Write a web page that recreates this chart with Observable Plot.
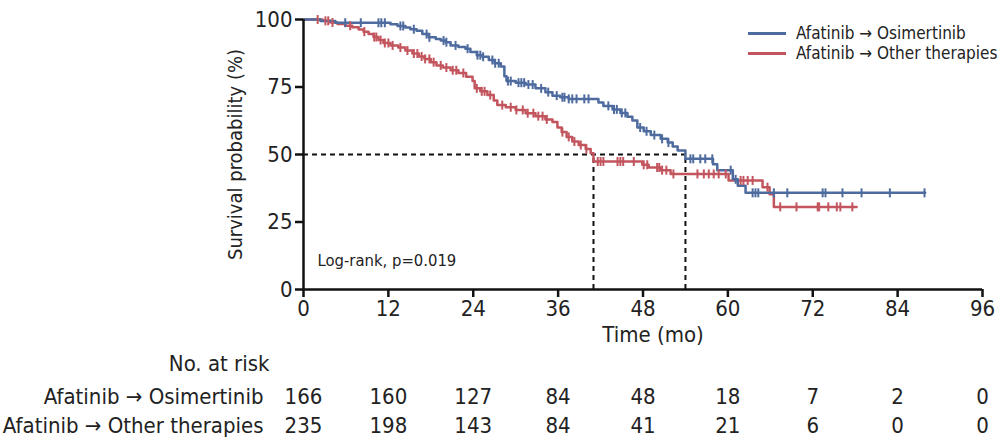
<!DOCTYPE html>
<html>
<head>
<meta charset="utf-8">
<script src="https://cdn.jsdelivr.net/npm/d3@7"></script>
<script src="https://cdn.jsdelivr.net/npm/@observablehq/plot@0.6"></script>
<style>
  body { margin: 0; background: #fff; }
  #wrap { position: relative; width: 1004px; height: 446px; font-family: "DejaVu Sans Condensed", "DejaVu Sans", sans-serif; font-stretch: condensed; color: #222; }
  #legend { position: absolute; left: 748px; top: 23px; font-size: 17px; line-height: 20px; white-space: nowrap; }
  #legend .row { display: flex; align-items: center; height: 20px; }
  #legend .sw { width: 38px; height: 3px; margin-right: 10px; }
</style>
</head>
<body>
<div id="wrap"></div>
<script>
const groups = ["Afatinib \u2192 Osimertinib", "Afatinib \u2192 Other therapies"];
const colors = ["#4e6b9f", "#c2555e"];
const xTicks = [0, 12, 24, 36, 48, 60, 72, 84, 96];
const yTicks = [0, 25, 50, 75, 100];

const osiTimes = [0,2.4,4.5,12.3,13.3,14.4,15.1,16.0,16.8,17.7,18.7,19.4,20.1,20.8,21.9,22.9,23.6,24.5,25.3,26.2,27.0,27.9,28.4,28.7,30.0,31.4,32.8,34.2,35.2,36.3,37.5,41.7,42.4,43.7,44.8,45.8,46.5,47.2,48.1,49.1,50.5,51.5,52.2,52.9,54.0,57.9,58.5,60.7,61.4,62.5];
const osiSurv = [100,99.4,98.8,98.2,97.6,97.0,96.4,95.8,94.6,93.4,92.8,92.2,91.6,90.4,89.8,89.2,88.0,86.8,86.2,85.0,83.8,82.6,79.0,77.2,76.6,75.9,74.5,73.1,71.8,71.2,70.6,69.3,68.0,66.7,65.4,64.0,62.6,60.0,58.6,57.2,55.8,54.4,53.0,51.5,48.4,46.4,44.2,40.8,38.4,35.8];
const osiEnd = 87.9;
const osiCensor = [5.9,8.1,10.6,11.0,11.5,13.7,14.1,15.6,17.4,17.8,19.8,20.2,21.5,23.2,24.6,25.0,25.4,26.7,27.1,27.6,28.9,29.3,30.4,30.8,31.2,31.8,32.4,33.6,34.6,35.8,36.6,36.9,37.5,38.0,38.6,39.7,40.3,43.1,43.9,44.3,45.0,45.5,47.6,48.5,49.6,50.7,51.6,54.7,55.1,56.1,56.8,57.8,60.4,61.1,63.5,63.9,64.3,66.5,68.4,73.4,73.8,76.2,78.9,82.9,87.8];

const othTimes = [0,2.7,3.8,4.8,5.9,6.9,7.8,8.5,9.2,9.9,10.6,11.3,12.3,13.4,14.4,15.4,16.3,17.1,18.0,18.8,19.7,20.8,21.9,23.0,23.9,24.2,25.0,26.0,26.9,27.4,28.6,30.0,31.4,32.8,34.2,35.2,35.9,36.5,37.2,38.0,38.9,39.9,40.6,41.0,47.9,48.8,50.5,51.9,60.1,64.9,65.9,66.5];
const othSurv = [100,99.5,98.9,98.3,97.7,97.1,96.3,95.5,94.6,93.5,92.4,91.3,90.4,89.6,88.5,87.4,86.3,85.4,84.2,83.0,82.2,81.2,80.2,78.8,77.2,74.5,73.4,72.0,70.0,68.3,67.5,66.5,65.3,64.2,63.0,62.0,60.0,58.3,56.5,54.8,53.5,52.0,50.5,47.4,46.2,45.2,44.2,42.8,40.4,37.9,35.3,30.6];
const othEnd = 78.2;
const othCensor = [2.0,3.1,3.5,4.1,6.6,8.6,10.0,10.3,10.9,11.5,12.0,12.6,13.7,14.7,15.6,16.1,16.7,17.2,17.8,18.4,19.4,20.2,21.1,21.6,22.6,24.5,25.2,25.6,26.4,28.1,29.3,30.1,31.0,31.7,32.5,33.2,33.8,34.4,36.6,37.5,38.3,39.2,40.0,41.6,42.0,42.4,44.4,44.8,45.2,46.7,48.1,48.6,50.0,50.3,50.7,51.3,52.3,55.7,56.6,57.3,58.0,58.7,59.7,61.8,62.2,62.8,63.5,65.6,67.4,69.7,72.7,72.9,74.2,75.4,75.9,77.6];

const riskOsi = [166, 160, 127, 84, 48, 18, 7, 2, 0];
const riskOth = [235, 198, 143, 84, 41, 21, 6, 0, 0];
const medianTimes = [41, 54];
const logRankText = "Log-rank, p=0.019";

function stepRows(times, surv, end, g) {
  const rows = times.map((t, i) => ({t, s: surv[i], g}));
  rows.push({t: end, s: surv[surv.length - 1], g});
  return rows;
}
function survAt(times, surv, t) {
  let s = surv[0];
  for (let i = 0; i < times.length; i++) if (times[i] <= t) s = surv[i];
  return s;
}
const curves = [
  ...stepRows(othTimes, othSurv, othEnd, groups[1]),
  ...stepRows(osiTimes, osiSurv, osiEnd, groups[0])
];
const censors = [
  ...othCensor.map(t => ({t, s: survAt(othTimes, othSurv, t), g: groups[1]})),
  ...osiCensor.map(t => ({t, s: survAt(osiTimes, osiSurv, t), g: groups[0]}))
];
const tickSymbol = {draw(context) { context.moveTo(0, -4.5); context.lineTo(0, 4.5); }};

const font = "'DejaVu Sans Condensed', 'DejaVu Sans', sans-serif";
const chart = Plot.plot({
  width: 1004, height: 446,
  marginLeft: 303, marginRight: 22, marginTop: 19, marginBottom: 157,
  style: {fontFamily: font, fontSize: "22px", color: "#222", background: "#fff", overflow: "visible", fontStretch: "condensed"},
  x: {domain: [0, 96]},
  y: {domain: [0, 100]},
  color: {domain: groups, range: colors},
  marks: [
    Plot.ruleY([50], {x1: 0, x2: medianTimes[1], stroke: "#111", strokeWidth: 2, strokeDasharray: "5,4"}),
    Plot.ruleX(medianTimes, {x: d => d, y1: 0, y2: 50, stroke: "#111", strokeWidth: 2, strokeDasharray: "5,4"}),
    Plot.line(curves, {x: "t", y: "s", z: "g", stroke: "g", curve: "step-after", strokeWidth: 2.5}),
    Plot.dot(censors, {x: "t", y: "s", stroke: "g", symbol: tickSymbol, r: 4, strokeWidth: 2, fill: "none"}),
    Plot.axisX({ticks: xTicks, tickSize: 8, tickPadding: 3, strokeWidth: 2.5, stroke: "#111", fontSize: 22, label: null}),
    Plot.axisY({ticks: yTicks, tickSize: 8, tickPadding: 3, strokeWidth: 2.5, stroke: "#111", fontSize: 22, label: null}),
    Plot.ruleX([0], {stroke: "#111", strokeWidth: 2.5}),
    Plot.ruleY([0], {stroke: "#111", strokeWidth: 2.5}),
    Plot.text(["Time (mo)"], {frameAnchor: "bottom", dx: 10, dy: 52, fontSize: 22}),
    Plot.text(["Survival probability (%)"], {frameAnchor: "left", dx: -68, rotate: -90, textAnchor: "middle", fontSize: 20}),
    Plot.text([logRankText], {frameAnchor: "bottom-left", dx: 14, dy: -24, textAnchor: "start", fontSize: 16.5}),
    Plot.text(["No. at risk"], {frameAnchor: "bottom-left", dx: -34, dy: 81, textAnchor: "end", fontSize: 22}),
    Plot.text([groups[0]], {frameAnchor: "bottom-left", dx: -40, dy: 114, textAnchor: "end", fontSize: 22}),
    Plot.text([groups[1]], {frameAnchor: "bottom-left", dx: -40, dy: 143, textAnchor: "end", fontSize: 22}),
    Plot.text(riskOsi, {x: (d, i) => xTicks[i], text: d => String(d), frameAnchor: "bottom", dy: 114, fontSize: 22}),
    Plot.text(riskOth, {x: (d, i) => xTicks[i], text: d => String(d), frameAnchor: "bottom", dy: 143, fontSize: 22})
  ]
});
const wrap = document.getElementById("wrap");
wrap.appendChild(chart);
const legend = document.createElement("div");
legend.id = "legend";
groups.forEach((g, i) => {
  const row = document.createElement("div");
  row.className = "row";
  const sw = document.createElement("div");
  sw.className = "sw";
  sw.style.background = colors[i];
  const label = document.createElement("span");
  label.textContent = g;
  row.appendChild(sw);
  row.appendChild(label);
  legend.appendChild(row);
});
wrap.appendChild(legend);
</script>
</body>
</html>
